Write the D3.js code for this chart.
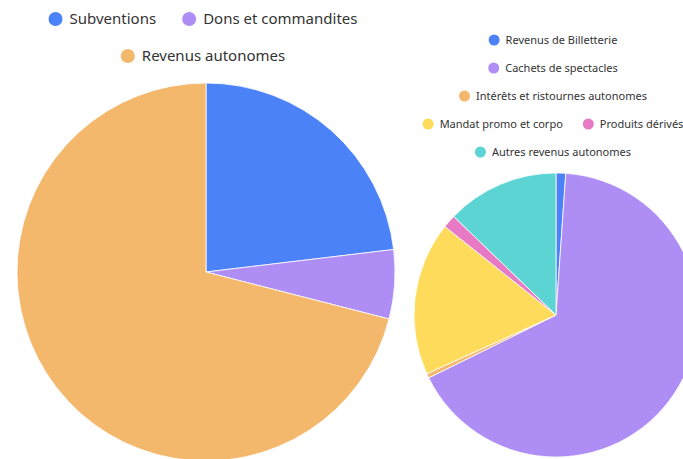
<!DOCTYPE html>
<meta charset="utf-8">
<head>
	<title>Revenus</title>
</head>
<style>
body{ margin:0; background:#fff; }
svg{ display:block; }
text{ font-family:"Noto Sans","Open Sans",sans-serif; fill:#333; }
</style>
<body>
<svg id="chart" width="683" height="459"></svg>

<script src="https://cdnjs.cloudflare.com/ajax/libs/d3/7.8.5/d3.min.js"></script>
<script>

// pie 1 : sources of revenue (%)
var main_labels = ['Subventions', 'Dons et commandites', 'Revenus autonomes'];
var main_values = [23.1, 5.9, 71.0];
var main_colors = ['#4b82f7', '#ae8df4', '#f3b86c'];
var main_rows = [[0, 1], [2]];

// pie 2 : detail of own revenue (%)
var auto_labels = ['Revenus de Billetterie', 'Cachets de spectacles', 'Intérêts et ristournes autonomes',
	'Mandat promo et corpo', 'Produits dérivés', 'Autres revenus autonomes'];
var auto_values = [1.1, 66.6, 0.5, 17.5, 1.5, 12.8];
var auto_colors = ['#4b82f7', '#ae8df4', '#f3b86c', '#fedb5a', '#e879c4', '#5dd4d4'];
var auto_rows = [[0], [1], [2], [3, 4], [5]];

var svg = d3.select('#chart');

function drawPie(cfg){
	var pie = d3.pie().sort(null).value(function(d){ return d; });
	var arc = d3.arc().innerRadius(0).outerRadius(cfg.r);
	var g = svg.append('g').attr('transform', 'translate(' + cfg.cx + ',' + cfg.cy + ')');
	g.selectAll('path')
		.data(pie(cfg.values))
		.enter()
		.append('path')
		.attr('d', arc)
		.attr('fill', function(d, i){ return cfg.colors[i]; })
		.attr('stroke', '#fff')
		.attr('stroke-width', 0.8);

	// legend, one centred line per row
	var leg = svg.append('g');
	cfg.rows.forEach(function(row, ri){
		var line = leg.append('g');
		var x = 0;
		row.forEach(function(k, j){
			if(j > 0) x += cfg.gap;
			line.append('circle')
				.attr('cx', x + cfg.dot)
				.attr('cy', 0)
				.attr('r', cfg.dot)
				.attr('fill', cfg.colors[k]);
			x += cfg.dot * 2 + cfg.pad;
			var t = line.append('text')
				.attr('x', x)
				.attr('y', 0)
				.attr('dy', '0.35em')
				.style('font-size', cfg.font + 'px')
				.text(cfg.labels[k]);
			x += t.node().getComputedTextLength();
		});
		line.attr('transform', 'translate(' + (cfg.lx - x / 2) + ',' + (cfg.ly + ri * cfg.lh) + ')');
	});
}

drawPie({cx:206, cy:272, r:189, values:main_values, colors:main_colors, labels:main_labels,
	rows:main_rows, lx:203, ly:19, lh:37, dot:7, pad:7, gap:26, font:15});

drawPie({cx:556, cy:315, r:142, values:auto_values, colors:auto_colors, labels:auto_labels,
	rows:auto_rows, lx:553, ly:40, lh:28, dot:5.5, pad:6, gap:20, font:11});

</script>
</body>
</html>
